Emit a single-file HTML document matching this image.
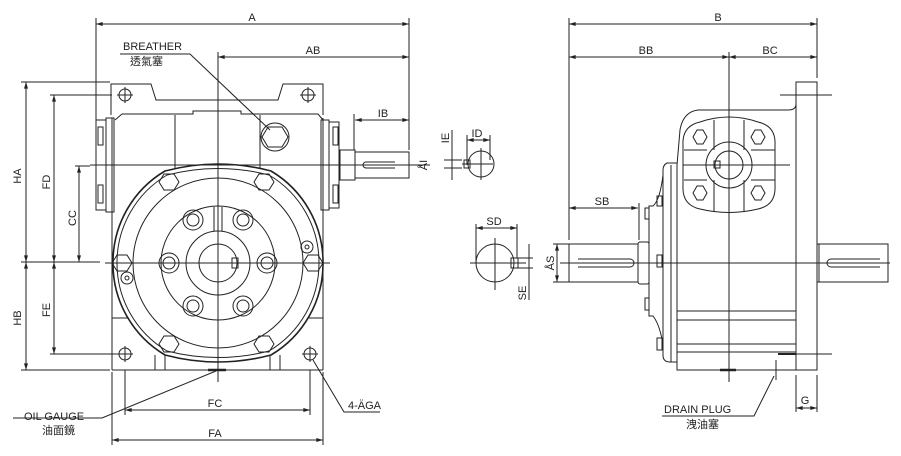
<!DOCTYPE html>
<html><head><meta charset="utf-8"><style>
html,body{margin:0;padding:0;background:#fff}
svg{display:block}
text{font-family:"Liberation Sans","Noto Sans CJK TC",sans-serif;font-size:11px;fill:#222}
</style></head><body>
<svg width="901" height="456" viewBox="0 0 901 456" xmlns="http://www.w3.org/2000/svg">
<defs>
<marker id="ar" viewBox="0 0 10 6" refX="10" refY="3" markerWidth="7" markerHeight="4" orient="auto-start-reverse"><path d="M0,0L10,3L0,6z" fill="#222"/></marker>
</defs>
<g stroke="#222" stroke-width="1" fill="none">
<line x1="96" y1="24" x2="409" y2="24" marker-start="url(#ar)" marker-end="url(#ar)"/>
<line x1="96" y1="18" x2="96" y2="120"/>
<line x1="409" y1="18" x2="409" y2="150"/>
<line x1="218" y1="57" x2="409" y2="57" marker-start="url(#ar)" marker-end="url(#ar)"/>
<line x1="355" y1="120" x2="409" y2="120" marker-start="url(#ar)" marker-end="url(#ar)"/>
<line x1="354" y1="114" x2="354" y2="150"/>
<line x1="26" y1="82" x2="26" y2="262" marker-start="url(#ar)" marker-end="url(#ar)"/>
<line x1="26" y1="262" x2="26" y2="370" marker-start="url(#ar)" marker-end="url(#ar)"/>
<line x1="21" y1="82" x2="110" y2="82"/>
<line x1="54" y1="95" x2="54" y2="262" marker-start="url(#ar)" marker-end="url(#ar)"/>
<line x1="54" y1="262" x2="54" y2="354" marker-start="url(#ar)" marker-end="url(#ar)"/>
<line x1="50" y1="95" x2="112" y2="95"/>
<line x1="50" y1="354" x2="120" y2="354"/>
<line x1="79" y1="166" x2="79" y2="262" marker-start="url(#ar)" marker-end="url(#ar)"/>
<line x1="75" y1="166" x2="90" y2="166"/>
<line x1="21" y1="370" x2="110" y2="370"/>
<line x1="21" y1="262" x2="100" y2="262"/>
<line x1="125" y1="410" x2="310" y2="410" marker-start="url(#ar)" marker-end="url(#ar)"/>
<line x1="125" y1="370" x2="125" y2="415"/>
<line x1="310" y1="370" x2="310" y2="415"/>
<line x1="112" y1="440" x2="323" y2="440" marker-start="url(#ar)" marker-end="url(#ar)"/>
<line x1="112" y1="372" x2="112" y2="445"/>
<line x1="323" y1="372" x2="323" y2="445"/>
<line x1="218" y1="52" x2="218" y2="382"/>
<line x1="90" y1="165" x2="430" y2="165"/>
<line x1="105" y1="263" x2="330" y2="263"/>
<path d="M111,115 V84 H151 L156,100 H278 L283,84 H323 V115"/>
<circle cx="125" cy="95" r="6"/><line x1="117" y1="95" x2="133" y2="95"/><line x1="125" y1="87" x2="125" y2="103"/>
<circle cx="308" cy="95" r="6"/><line x1="300" y1="95" x2="316" y2="95"/><line x1="308" y1="87" x2="308" y2="103"/>
<path d="M115,120 L122,114 H193 V111 H241 V114 H318 L323,120"/>
<line x1="175" y1="115" x2="175" y2="168"/>
<line x1="260" y1="115" x2="260" y2="168"/>
<line x1="112" y1="118" x2="112" y2="370"/>
<line x1="323" y1="118" x2="323" y2="370"/>
<rect x="96" y="120" width="10" height="90"/><rect x="106" y="118" width="8" height="94"/>
<rect x="98" y="127" width="5" height="18"/><rect x="98" y="185" width="5" height="18"/>
<rect x="321" y="120" width="8" height="90"/><rect x="329" y="122" width="10" height="86"/>
<rect x="333" y="127" width="5" height="18"/><rect x="333" y="185" width="5" height="18"/>
<rect x="340" y="150" width="15" height="30"/>
<rect x="355" y="152" width="54" height="26"/>
<path d="M395,162 H366 a3,3 0 0 0 0,6 H395"/>
<circle cx="275" cy="137" r="14"/><polygon points="268,127 282,127 288,137 282,147 268,147 262,137"/>
<line x1="112" y1="318" x2="128" y2="318"/><line x1="308" y1="318" x2="323" y2="318"/>
<line x1="112" y1="370" x2="323" y2="370"/>
<line x1="155" y1="355" x2="155" y2="370"/><line x1="165" y1="355" x2="165" y2="370"/>
<line x1="270" y1="355" x2="270" y2="370"/><line x1="280" y1="355" x2="280" y2="370"/>
<circle cx="125" cy="354" r="6"/><line x1="117" y1="354" x2="133" y2="354"/><line x1="125" y1="346" x2="125" y2="362"/>
<circle cx="310" cy="354" r="6"/><line x1="302" y1="354" x2="318" y2="354"/><line x1="310" y1="346" x2="310" y2="362"/>
<path stroke-width="1.6" d="M165,171 Q218,157 271,171 A106,106 0 0 1 323,263 A106,106 0 0 1 271,355 Q218,369 165,355 A106,106 0 0 1 113,263 A106,106 0 0 1 165,171 Z"/>
<path d="M167,175 Q218,162 269,175 A102,102 0 0 1 319,263 A102,102 0 0 1 269,351 Q218,364 167,351 A102,102 0 0 1 117,263 A102,102 0 0 1 167,175 Z"/>
<circle cx="218" cy="263" r="85"/>
<circle cx="218" cy="263" r="57"/>
<circle cx="218" cy="263" r="32"/>
<circle cx="218" cy="263" r="19"/>
<rect x="232" y="258" width="6" height="10"/>
<line x1="214" y1="207" x2="214" y2="231"/><line x1="222" y1="207" x2="222" y2="231"/>
<g>
<circle cx="267" cy="263" r="6"/><circle cx="169" cy="263" r="6"/>
<circle cx="243" cy="220" r="6"/><circle cx="193" cy="220" r="6"/>
<circle cx="243" cy="306" r="6"/><circle cx="193" cy="306" r="6"/>
<circle cx="267" cy="263" r="10"/><circle cx="169" cy="263" r="10"/>
<circle cx="243" cy="220" r="10"/><circle cx="193" cy="220" r="10"/>
<circle cx="243" cy="306" r="10"/><circle cx="193" cy="306" r="10"/>
</g>
<polygon points="164,174 174,174 179,182 174,190 164,190 159,182"/>
<polygon points="259,174 269,174 274,182 269,190 259,190 254,182"/>
<polygon points="164,336 174,336 179,344 174,352 164,352 159,344"/>
<polygon points="259,336 269,336 274,344 269,352 259,352 254,344"/>
<polygon points="117,255 127,255 132,263 127,271 117,271 112,263"/>
<polygon points="308,255 318,255 323,263 318,271 308,271 303,263"/>
<circle cx="127" cy="278" r="6"/><circle cx="127" cy="278" r="2"/>
<circle cx="307" cy="247" r="6"/><circle cx="307" cy="247" r="2"/>
<line x1="208" y1="370" x2="226" y2="370" stroke-width="2.5"/>
<path d="M120,54 H190 L270,130"/>
<path d="M13,418 H102 L216,371"/>
<path d="M313,360 L344,412 H380"/>
<line x1="467" y1="140" x2="490" y2="140" marker-start="url(#ar)" marker-end="url(#ar)"/>
<line x1="467" y1="135" x2="467" y2="165"/><line x1="490" y1="135" x2="490" y2="160"/>
<circle cx="481" cy="164" r="13"/>
<line x1="462" y1="164" x2="493" y2="164"/><line x1="481" y1="148" x2="481" y2="180"/>
<rect x="464" y="160" width="6" height="8"/>
<line x1="444" y1="160" x2="462" y2="160"/><line x1="444" y1="168" x2="462" y2="168"/>
<line x1="452" y1="130" x2="452" y2="180"/>
<line x1="476" y1="228" x2="517" y2="228" marker-start="url(#ar)" marker-end="url(#ar)"/>
<line x1="476" y1="224" x2="476" y2="263"/><line x1="517" y1="224" x2="517" y2="258"/>
<circle cx="495" cy="263" r="19"/>
<line x1="470" y1="263" x2="526" y2="263"/><line x1="495" y1="238" x2="495" y2="290"/>
<rect x="511" y="258" width="7" height="10"/>
<line x1="518" y1="258" x2="533" y2="258"/><line x1="518" y1="268" x2="533" y2="268"/>
<line x1="529" y1="244" x2="529" y2="300"/>
<line x1="569" y1="24" x2="817" y2="24" marker-start="url(#ar)" marker-end="url(#ar)"/>
<line x1="569" y1="18" x2="569" y2="240"/><line x1="817" y1="18" x2="817" y2="78"/>
<line x1="569" y1="57" x2="729" y2="57" marker-start="url(#ar)" marker-end="url(#ar)"/>
<line x1="729" y1="57" x2="817" y2="57" marker-start="url(#ar)" marker-end="url(#ar)"/>
<line x1="569" y1="208" x2="638" y2="208" marker-start="url(#ar)" marker-end="url(#ar)"/>
<line x1="639" y1="203" x2="639" y2="240"/>
<line x1="557" y1="244" x2="557" y2="282" marker-start="url(#ar)" marker-end="url(#ar)"/>
<line x1="553" y1="244" x2="569" y2="244"/><line x1="553" y1="282" x2="569" y2="282"/>
<line x1="729" y1="52" x2="729" y2="382"/>
<line x1="560" y1="263" x2="890" y2="263"/>
<line x1="683" y1="165" x2="790" y2="165"/>
<rect x="796" y="82" width="21" height="288"/>
<line x1="780" y1="95" x2="832" y2="95"/><line x1="780" y1="354" x2="832" y2="354"/>
<path d="M796,104 Q796,110 788,110 H698 Q683,112 680,130 L677,165 V370 H796"/>
<line x1="677" y1="311" x2="796" y2="311"/><line x1="677" y1="320" x2="796" y2="320"/>
<line x1="677" y1="344" x2="796" y2="344"/><line x1="677" y1="352" x2="796" y2="352"/>
<path d="M700,122 Q729,112 758,122 Q776,126 775,145 V186 Q776,205 758,209 Q729,216 700,209 Q682,205 683,186 V145 Q682,126 700,122 Z"/>
<line x1="714" y1="120" x2="714" y2="150"/><line x1="744" y1="120" x2="744" y2="150"/>
<line x1="714" y1="180" x2="714" y2="211"/><line x1="744" y1="180" x2="744" y2="211"/>
<line x1="684" y1="150" x2="707" y2="150"/><line x1="751" y1="150" x2="775" y2="150"/>
<line x1="684" y1="180" x2="707" y2="180"/><line x1="751" y1="180" x2="775" y2="180"/>
<circle cx="729" cy="165" r="23"/><circle cx="729" cy="165" r="14"/>
<rect x="714" y="161" width="6" height="7"/>
<polygon points="697,130 703,130 707,137 703,144 697,144 693,137"/>
<polygon points="755,130 761,130 765,137 761,144 755,144 751,137"/>
<polygon points="697,186 703,186 707,193 703,200 697,200 693,193"/>
<polygon points="755,186 761,186 765,193 761,200 755,200 751,193"/>
<path d="M677,163 H667 Q663,165 663,170 V355 Q663,362 670,362 H677"/>
<line x1="671" y1="165" x2="671" y2="362"/>
<path d="M663,175 Q660,200 653,206 H649 V316 H653 Q660,325 663,345"/>
<rect x="657" y="196" width="5" height="10"/><rect x="657" y="255" width="5" height="12"/><rect x="657" y="338" width="5" height="12"/>
<rect x="645" y="208" width="4" height="11"/><rect x="645" y="298" width="4" height="12"/>
<rect x="638" y="242" width="11" height="42" rx="2"/>
<rect x="569" y="244" width="69" height="38"/>
<path d="M630,259 H578 M630,267 H578 M630,259 a4,4 0 0 1 0,8"/>
<rect x="817" y="244" width="2" height="38"/>
<rect x="819" y="244" width="69" height="38"/>
<path d="M880,259 H831 a4,4 0 0 0 0,8 H880"/>
<line x1="796" y1="375" x2="796" y2="412"/><line x1="817" y1="375" x2="817" y2="412"/>
<line x1="796" y1="408" x2="817" y2="408" marker-start="url(#ar)" marker-end="url(#ar)"/>
<line x1="720" y1="370" x2="736" y2="370" stroke-width="2.5"/>
<line x1="778" y1="354" x2="796" y2="354" stroke-width="2"/>
<line x1="776" y1="360" x2="776" y2="380"/>
<path d="M662,416 H754 L774,376"/>
</g>
<text x="252" y="21" text-anchor="middle">A</text>
<text x="313" y="54" text-anchor="middle">AB</text>
<text x="383" y="117" text-anchor="middle">IB</text>
<text x="123" y="50" font-size="10.5">BREATHER</text>
<text x="130" y="65" font-size="11">透氣塞</text>
<text x="24" y="420" font-size="10.5">OIL GAUGE</text>
<text x="42" y="434" font-size="11">油面鏡</text>
<text x="348" y="409" font-size="10.5">4-ÄGA</text>
<text x="215" y="407" text-anchor="middle">FC</text>
<text x="215" y="437" text-anchor="middle">FA</text>
<text x="718" y="21" text-anchor="middle">B</text>
<text x="646" y="54" text-anchor="middle">BB</text>
<text x="770" y="54" text-anchor="middle">BC</text>
<text x="602" y="205" text-anchor="middle">SB</text>
<text x="494" y="225" text-anchor="middle">SD</text>
<text x="477" y="137" text-anchor="middle">ID</text>
<text x="805" y="404" text-anchor="middle">G</text>
<text x="664" y="413" font-size="10.5">DRAIN PLUG</text>
<text x="686" y="428" font-size="11">洩油塞</text>
<g font-size="11">
<text transform="translate(21,176) rotate(-90)" text-anchor="middle">HA</text>
<text transform="translate(21,318) rotate(-90)" text-anchor="middle">HB</text>
<text transform="translate(50,182) rotate(-90)" text-anchor="middle">FD</text>
<text transform="translate(50,310) rotate(-90)" text-anchor="middle">FE</text>
<text transform="translate(76,218) rotate(-90)" text-anchor="middle">CC</text>
<text transform="translate(427,165) rotate(-90)" text-anchor="middle">ÅI</text>
<text transform="translate(449,138) rotate(-90)" text-anchor="middle">IE</text>
<text transform="translate(526,293) rotate(-90)" text-anchor="middle">SE</text>
<text transform="translate(554,263) rotate(-90)" text-anchor="middle">ÅS</text>
</g>
</svg>
</body></html>
